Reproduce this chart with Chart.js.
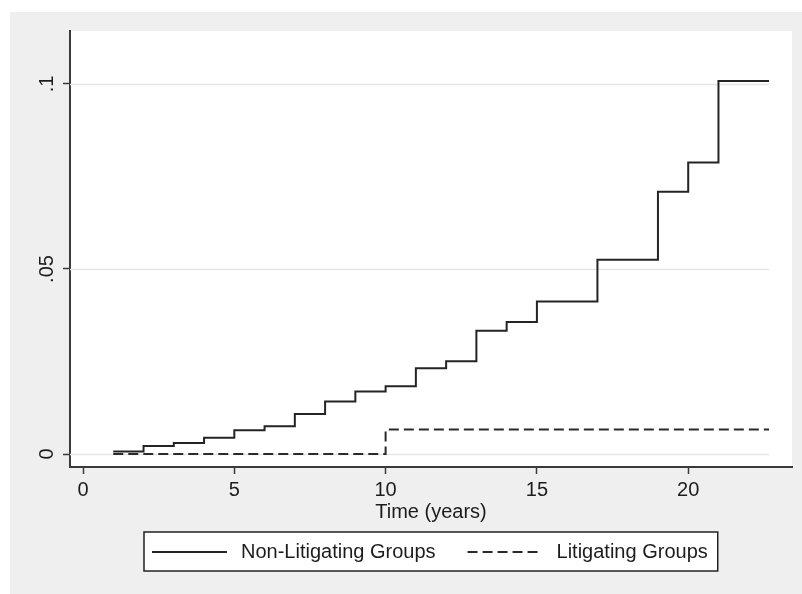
<!DOCTYPE html>
<html>
<head>
<meta charset="utf-8">
<title>Time (years)</title>
<script src="https://cdn.jsdelivr.net/npm/chart.js@4.4.1/dist/chart.umd.min.js"></script>
<style>
  body { margin: 0; background: #fff; }
  #wrap { width: 802px; height: 594px; }
</style>
</head>
<body>
<div id="wrap"><canvas id="myChart" width="802" height="594"></canvas></div>
<script>
// step times (years) and cumulative values
const nonLitYears = [1, 2, 3, 4, 5, 6, 7, 8, 9, 10, 11, 12, 13, 14, 15, 17, 19, 20, 21, 22.67];
const nonLitValues = [0.0007, 0.0022, 0.003, 0.0044, 0.0064, 0.0075, 0.0108, 0.0142, 0.0169, 0.0183,
  0.0232, 0.0251, 0.0333, 0.0357, 0.0412, 0.0525, 0.0709, 0.0788, 0.1008, 0.1008];
const litYears = [1, 10, 22.67];
const litValues = [0, 0.0066, 0.0066];

const seriesNames = ['Non-Litigating Groups', 'Litigating Groups'];
const xTicks = [0, 5, 10, 15, 20];
const yTicks = [0, 0.05, 0.1];
const yTickLabels = ['0', '.05', '.1'];
const xTitle = 'Time (years)';

const FONT = "'Liberation Sans', Arial, sans-serif";
const INK = '#1c1c1c';
const AXIS = '#3a3a3a';

Chart.defaults.font.family = FONT;
Chart.defaults.color = INK;

const toPoints = (xs, ys) => xs.map((x, i) => ({ x: x, y: ys[i] }));

const stataLook = {
  id: 'stataLook',
  beforeDraw: chart => {
    const ctx = chart.ctx;
    const area = chart.chartArea;
    ctx.save();
    ctx.fillStyle = '#fff';
    ctx.fillRect(0, 0, chart.width, chart.height);
    ctx.fillStyle = '#efefef';
    ctx.fillRect(10, 12, chart.width - 10, chart.height - 12);
    ctx.fillStyle = '#fff';
    ctx.fillRect(area.left, area.top, area.right - area.left, area.bottom - area.top);
    ctx.restore();
  },
  beforeDatasetsDraw: chart => {
    // horizontal grid lines, stopping where the data stop
    const ctx = chart.ctx;
    const xs = chart.scales.x;
    const ys = chart.scales.y;
    const xEnd = xs.getPixelForValue(nonLitYears[nonLitYears.length - 1]);
    ctx.save();
    ctx.strokeStyle = '#e6e6e6';
    ctx.lineWidth = 1.5;
    yTicks.forEach(v => {
      const py = Math.round(ys.getPixelForValue(v)) + 0.5;
      ctx.beginPath();
      ctx.moveTo(chart.chartArea.left, py);
      ctx.lineTo(xEnd, py);
      ctx.stroke();
    });
    ctx.restore();
  },
  afterDraw: chart => {
    const ctx = chart.ctx;
    const ys = chart.scales.y;
    const area = chart.chartArea;
    ctx.save();

    // rotated y tick labels
    ctx.font = '20px ' + FONT;
    ctx.fillStyle = INK;
    ctx.textAlign = 'center';
    ctx.textBaseline = 'alphabetic';
    yTicks.forEach((v, i) => {
      ctx.save();
      ctx.translate(53, ys.getPixelForValue(v));
      ctx.rotate(-Math.PI / 2);
      ctx.fillText(yTickLabels[i], 0, 0);
      ctx.restore();
    });

    // legend box below the axis title
    const ds = chart.data.datasets;
    const padL = 8, padR = 10, sample = 75, gap = 14, between = 32;
    const w0 = ctx.measureText(ds[0].label).width;
    const w1 = ctx.measureText(ds[1].label).width;
    const boxW = padL + sample + gap + w0 + between + sample + gap + w1 + padR;
    const cx = (area.left + area.right) / 2;
    const bx = Math.round(cx - boxW / 2);
    const by = 532, bh = 39;
    const midY = by + bh / 2 + 0.5;

    ctx.fillStyle = '#fff';
    ctx.fillRect(bx, by, boxW, bh);
    ctx.strokeStyle = '#222';
    ctx.lineWidth = 1.5;
    ctx.strokeRect(bx, by, boxW, bh);

    let x = bx + padL;
    ds.forEach((d, i) => {
      ctx.strokeStyle = d.borderColor;
      ctx.lineWidth = d.borderWidth;
      ctx.setLineDash(d.borderDash || []);
      ctx.beginPath();
      ctx.moveTo(x, midY);
      ctx.lineTo(x + sample, midY);
      ctx.stroke();
      ctx.setLineDash([]);
      x += sample + gap;
      ctx.fillStyle = INK;
      ctx.textAlign = 'left';
      ctx.textBaseline = 'middle';
      ctx.fillText(d.label, x, midY);
      x += (i === 0 ? w0 : w1) + between;
    });

    ctx.restore();
  }
};

const ctx = document.getElementById('myChart').getContext('2d');
const myChart = new Chart(ctx, {
  type: 'line',
  data: {
    datasets: [{
      label: seriesNames[0],
      data: toPoints(nonLitYears, nonLitValues),
      borderColor: '#242424',
      borderWidth: 2,
      stepped: 'before',
      pointRadius: 0,
      fill: false
    }, {
      label: seriesNames[1],
      data: toPoints(litYears, litValues),
      borderColor: '#2a2a2a',
      borderWidth: 2,
      borderDash: [10, 5],
      stepped: 'before',
      pointRadius: 0,
      fill: false
    }]
  },
  options: {
    responsive: false,
    devicePixelRatio: 1,
    animation: false,
    layout: {
      padding: { top: 31, right: 10, bottom: 70, left: 0 }
    },
    scales: {
      x: {
        type: 'linear',
        min: -0.43,
        max: 23.43,
        afterBuildTicks: s => { s.ticks = xTicks.map(v => ({ value: v })); },
        afterFit: s => { s.height = 57; },
        ticks: {
          font: { size: 20 },
          color: INK,
          padding: 4,
          maxRotation: 0,
          callback: v => String(v)
        },
        grid: {
          drawOnChartArea: false,
          drawTicks: true,
          tickLength: 7,
          tickColor: AXIS,
          tickWidth: 1.5
        },
        border: { display: true, color: AXIS, width: 2 },
        title: {
          display: true,
          text: xTitle,
          font: { size: 20 },
          color: INK,
          padding: { top: 0, bottom: 0 }
        }
      },
      y: {
        min: -0.0035,
        max: 0.1143,
        afterBuildTicks: s => { s.ticks = yTicks.map(v => ({ value: v })); },
        afterFit: s => { s.width = 70; },
        ticks: { display: false },
        grid: {
          drawOnChartArea: false,
          drawTicks: true,
          tickLength: 7,
          tickColor: AXIS,
          tickWidth: 1.5
        },
        border: { display: true, color: AXIS, width: 2 }
      }
    },
    plugins: {
      legend: { display: false },
      tooltip: { enabled: false },
      title: { display: false }
    }
  },
  plugins: [stataLook]
});
</script>
</body>
</html>
